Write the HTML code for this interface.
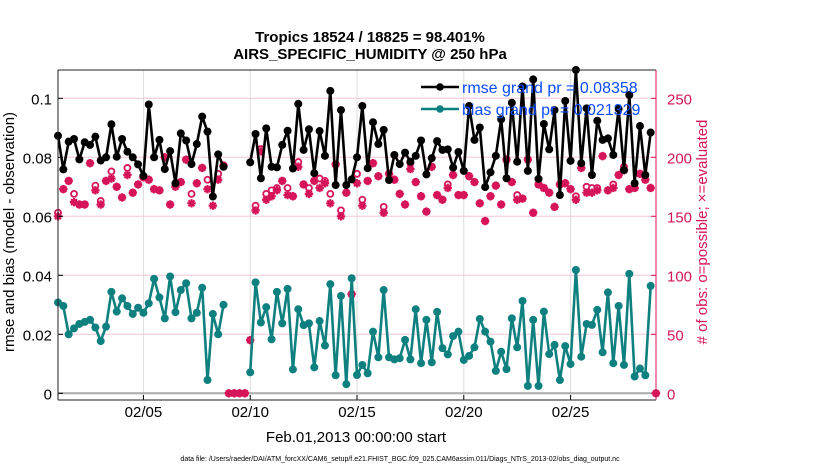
<!DOCTYPE html>
<html><head><meta charset="utf-8"><style>
html,body{margin:0;padding:0;background:#fff;}
svg{display:block;font-family:"Liberation Sans",sans-serif;}
</style></head><body>
<svg id="chart" width="830" height="470" xmlns="http://www.w3.org/2000/svg">
<text x="370" y="42" font-size="15" font-weight="bold" text-anchor="middle">Tropics 18524 / 18825 = 98.401%</text>
<text x="370" y="59" font-size="15" font-weight="bold" text-anchor="middle">AIRS_SPECIFIC_HUMIDITY @ 250 hPa</text>
<g id="grid"></g>
<g id="series"></g>
<g id="axes"></g>
<text transform="translate(14,232) rotate(-90)" font-size="15" text-anchor="middle">rmse and bias (model - observation)</text>
<text transform="translate(707,232) rotate(-90)" font-size="15" fill="#d6145a" text-anchor="middle"># of obs: o=possible; ×=evaluated</text>
<text x="356" y="442" font-size="15" text-anchor="middle">Feb.01,2013 00:00:00 start</text>
<text x="400" y="461" font-size="7" text-anchor="middle">data file: /Users/raeder/DAI/ATM_forcXX/CAM6_setup/f.e21.FHIST_BGC.f09_025.CAM6assim.011/Diags_NTrS_2013-02/obs_diag_output.nc</text>
<g>
<line x1="421" y1="87" x2="459" y2="87" stroke="#000" stroke-width="2.5"/><circle cx="440" cy="87" r="3.8" fill="#000"/>
<text x="462" y="93" font-size="16" fill="#0a4cff">rmse grand pr = 0.08358</text>
<line x1="421" y1="109" x2="459" y2="109" stroke="#0f8080" stroke-width="2.5"/><circle cx="440" cy="109" r="3.8" fill="#0f8080"/>
<text x="462" y="115" font-size="16" fill="#0a4cff">bias grand pr = 0.021329</text>
</g>
</svg>
<script>
const leftTicks=[0,0.02,0.04,0.06,0.08,0.1];
const leftTickLabels=["0","0.02","0.04","0.06","0.08","0.1"];
const rightTicks=[0,50,100,150,200,250];
const dateTicks=[4,9,14,19,24];
const dateLabels=["02/05","02/10","02/15","02/20","02/25"];
const rmse=[0.0873,0.0759,0.0853,0.0862,0.0793,0.0851,0.0842,0.0870,0.0789,0.080,0.0912,0.0802,0.0862,0.0819,0.080,0.0776,0.0737,0.0979,0.080,0.0859,0.0760,0.0821,0.0712,0.0881,0.0857,0.0777,0.0845,0.0938,0.0887,0.0667,0.081,0.0768,null,null,null,null,0.0783,0.0879,0.0729,0.0898,0.0768,0.0766,0.0842,0.089,0.0762,0.0981,0.0825,0.0895,0.0746,0.0889,0.0805,0.1025,0.0706,0.096,0.0706,0.0725,0.080,0.0974,0.0763,0.0919,0.0845,0.0893,0.0723,0.0808,0.0777,0.0816,0.0785,0.0805,0.0857,0.0742,0.0797,0.0855,0.0825,0.0827,0.0765,0.0818,0.0754,0.0974,0.0859,0.0901,0.0699,0.0749,0.0805,0.0929,0.0729,0.0985,0.0785,0.104,0.0754,0.1064,0.0727,0.0913,0.0827,0.096,0.0672,0.0991,0.0788,0.1096,0.078,0.0966,0.074,0.0924,0.0859,0.0864,0.0808,0.0964,0.0757,0.1011,0.0712,0.0906,0.074,0.0884];
const bias=[0.0308,0.0296,0.02,0.022,0.0235,0.0242,0.0249,0.0223,0.0177,0.0226,0.0344,0.0277,0.0322,0.0296,0.0269,0.029,0.0273,0.0305,0.0388,0.0325,0.0254,0.0396,0.0275,0.035,0.0373,0.0254,0.0273,0.0358,0.0045,0.0269,0.02,0.03,null,null,null,null,0.0071,0.0376,0.024,0.0292,0.0183,0.0344,0.0237,0.0354,0.0081,0.0285,0.0231,0.0237,0.0088,0.0245,0.0162,0.037,0.0061,0.033,0.0031,0.039,0.0062,0.0096,0.0068,0.0209,0.0122,0.035,0.0122,0.0115,0.0119,0.0181,0.0115,0.0285,0.0102,0.0249,0.0105,0.0276,0.0153,0.0132,0.0194,0.0209,0.0113,0.0127,0.0156,0.0252,0.0209,0.0175,0.0076,0.0141,0.0082,0.0254,0.0156,0.0313,0.0025,0.0249,0.0025,0.0277,0.0133,0.0164,0.0045,0.016,0.0099,0.0418,0.0124,0.0235,0.0232,0.0283,0.0139,0.0342,0.0102,0.0296,0.0096,0.0405,0.0057,0.0084,0.0061,0.0364];
const obsUsed=[150,173,180,162,160,160,195,172,160,180,182,175,166,185,170,177,183,181,173,172,200,160,175,179,198,161,178,191,173,159,181,193,0,0,0,0,45,155,205,164,167,172,180,168,167,192,177,169,180,174,178,161,194,150,170,84,178,159,180,195,184,153,186,181,169,160,190,179,167,154,192,168,164,174,185,168,168,184,179,161,146,167,176,160,198,179,164,165,198,153,177,174,170,158,177,178,173,164,191,170,170,172,201,172,174,185,189,173,174,186,181,174,0];
const obsPossible=[153,173,180,169,160,160,195,176,163,180,188,175,166,191,170,177,183,181,173,172,200,160,177,179,198,169,178,191,181,167,186,193,0,0,0,0,45,159,207,169,172,174,180,174,167,196,177,174,180,182,180,169,194,155,170,84,186,164,180,195,184,158,186,181,169,160,195,179,167,154,192,168,164,177,185,168,168,184,179,161,146,167,176,160,198,179,168,165,198,153,177,174,170,158,177,178,173,167,191,175,174,174,201,172,177,185,192,173,174,186,181,174,0];

const NS="http://www.w3.org/2000/svg";
const X0=58,X1=656,YT=70,YB=400;
function xS(i){return X0+(i/4)*(X1-X0)/28;}
function xD(d){return X0+d*(X1-X0)/28;}
function yL(v){return 393.3-v*2950;}
function yR(n){return yL(n/2500);}
function mk(tag,attrs,parent){const e=document.createElementNS(NS,tag);for(const k in attrs)e.setAttribute(k,attrs[k]);parent.appendChild(e);return e;}
const grid=document.getElementById('grid'),ser=document.getElementById('series'),axes=document.getElementById('axes');
mk('rect',{x:X0,y:YT,width:X1-X0,height:YB-YT,fill:'#fff'},grid);
dateTicks.forEach((d,k)=>{
  const l=mk('line',{x1:xD(d),x2:xD(d),y1:YT,y2:YB,stroke:'#ddd','stroke-width':1},grid);
  
  
  const t=mk('text',{x:xD(d),y:417,'font-size':15,'text-anchor':'middle'},axes);
  t.textContent=dateLabels[k];
  
  
  mk('line',{x1:xD(d),x2:xD(d),y1:YB,y2:YB-5,stroke:'#000'},axes);
});
rightTicks.forEach(n=>{
  const l=mk('line',{x1:X0,x2:X1,y1:yR(n),y2:yR(n),stroke:'#f4c6d8','stroke-width':1},grid);
  
  
  mk('line',{x1:X1,x2:X1-5,y1:yR(n),y2:yR(n),stroke:'#d6145a'},axes);
  const t=mk('text',{x:X1+11,y:yR(n)+6,'font-size':15,fill:'#d6145a'},axes);
  t.textContent=String(n);
  
  
});
mk('line',{x1:X0,x2:X1,y1:yL(0),y2:yL(0),stroke:'#aaa','stroke-width':2},grid);
leftTicks.forEach((v,k)=>{
  mk('line',{x1:X0,x2:X0+5,y1:yL(v),y2:yL(v),stroke:'#000'},axes);
  const t=mk('text',{x:X0-6,y:yL(v)+6,'font-size':15,'text-anchor':'end'},axes);
  t.textContent=leftTickLabels[k];
  
  
});
mk('line',{x1:X0,x2:X1,y1:YT,y2:YT,stroke:'#222'},axes);
mk('line',{x1:X0,x2:X1,y1:YB,y2:YB,stroke:'#222'},axes);
mk('line',{x1:X0,x2:X0,y1:YT,y2:YB,stroke:'#222'},axes);
mk('line',{x1:X1,x2:X1,y1:YT,y2:YB,stroke:'#d6145a'},axes);

function drawLine(vals,color,name){
  let d='',pen=false;
  vals.forEach((v,i)=>{if(v===null){pen=false;return;}d+=(pen?'L':'M')+xS(i).toFixed(1)+' '+yL(v).toFixed(1);pen=true;});
  const p=mk('path',{d:d,fill:'none',stroke:color,'stroke-width':2.6,'stroke-linejoin':'round'},ser);
  
  
  vals.forEach((v,i)=>{if(v===null)return;
    const c=mk('circle',{cx:xS(i),cy:yL(v),r:4,fill:color},ser);
    
    
  });
}
function drawObs(){
  obsPossible.forEach((n,i)=>{
    const c=mk('circle',{cx:xS(i),cy:yR(n),r:3,fill:'#fff',stroke:'#d6145a','stroke-width':1.8},ser);
    
    
  });
  obsUsed.forEach((n,i)=>{
    const x=xS(i),y=yR(n),r=4.2;
    const d=`M${x-r} ${y}H${x+r}M${x} ${y-r}V${y+r}M${x-r*0.7} ${y-r*0.7}L${x+r*0.7} ${y+r*0.7}M${x-r*0.7} ${y+r*0.7}L${x+r*0.7} ${y-r*0.7}`;
    const p=mk('path',{d:d,stroke:'#d6145a','stroke-width':2.2},ser);
    
    
  });
}
drawObs();
drawLine(rmse,'#000','rmse');
drawLine(bias,'#0f8080','bias');
</script>
</body></html>
